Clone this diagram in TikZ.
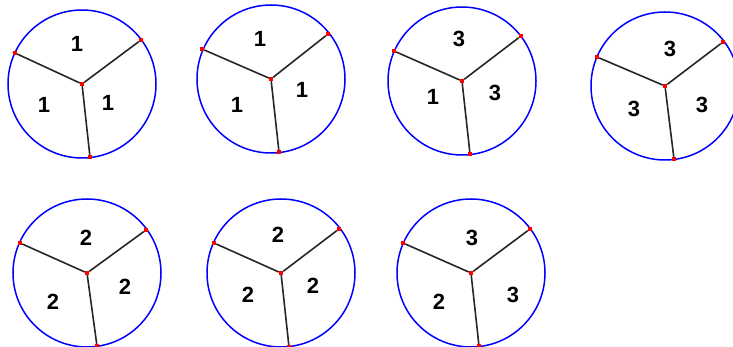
\documentclass[tikz,border=0pt]{standalone}
\usepackage{fontspec}
\setmainfont{Liberation Sans}
\usepackage{tikz}
\usetikzlibrary{positioning}

\begin{document}
\begin{tikzpicture}[
    x=1pt, y=-1pt,
    wheel/.style={circle, draw=blue, line width=1.5pt, minimum size=148pt, inner sep=0pt},
    dot/.style={rectangle, fill=red, minimum size=4pt, inner sep=0pt},
    spoke/.style={draw=black!85, line width=1.6pt},
    num/.style={font=\fontsize{22}{26}\selectfont\bfseries, inner sep=0pt}
]
\clip (0,0) rectangle (733,347);
\useasboundingbox (0,0) rectangle (733,347);

% top row
\node[wheel] (w1) at (82,84) {};
\node[dot] (c1) at (82,84) {};
\node[dot] (c1a) at (15,53) {};
\node[dot] (c1b) at (141,40) {};
\node[dot] (c1c) at (90,157) {};
\draw[spoke] (c1) -- (c1a);
\draw[spoke] (c1) -- (c1b);
\draw[spoke] (c1) -- (c1c);
\node[num] (n1t) at (77,44) {1};
\node[num] (n1l) at (44,105) {1};
\node[num] (n1r) at (108,103) {1};

\node[wheel] (w2) at (271,79) {};
\node[dot] (c2) at (271,79) {};
\node[dot] (c2a) at (202,49) {};
\node[dot] (c2b) at (328,34) {};
\node[dot] (c2c) at (279,152) {};
\draw[spoke] (c2) -- (c2a);
\draw[spoke] (c2) -- (c2b);
\draw[spoke] (c2) -- (c2c);
\node[num] (n2t) at (260,39) {1};
\node[num] (n2l) at (237,105) {1};
\node[num] (n2r) at (302,90) {1};

\node[wheel] (w3) at (462,81) {};
\node[dot] (c3) at (462,81) {};
\node[dot] (c3a) at (394,51) {};
\node[dot] (c3b) at (521,36) {};
\node[dot] (c3c) at (470,154) {};
\draw[spoke] (c3) -- (c3a);
\draw[spoke] (c3) -- (c3b);
\draw[spoke] (c3) -- (c3c);
\node[num] (n3t) at (459,39) {3};
\node[num] (n3l) at (433,97) {1};
\node[num] (n3r) at (495,93) {3};

\node[wheel] (w4) at (665,86) {};
\node[dot] (c4) at (665,86) {};
\node[dot] (c4a) at (597,57) {};
\node[dot] (c4b) at (723,42) {};
\node[dot] (c4c) at (674,159) {};
\draw[spoke] (c4) -- (c4a);
\draw[spoke] (c4) -- (c4b);
\draw[spoke] (c4) -- (c4c);
\node[num] (n4t) at (670,49) {3};
\node[num] (n4l) at (634,109) {3};
\node[num] (n4r) at (702,105) {3};

% bottom row
\node[wheel] (w5) at (87,273) {};
\node[dot] (c5) at (87,273) {};
\node[dot] (c5a) at (20,243) {};
\node[dot] (c5b) at (146,230) {};
\node[dot] (c5c) at (97,346) {};
\draw[spoke] (c5) -- (c5a);
\draw[spoke] (c5) -- (c5b);
\draw[spoke] (c5) -- (c5c);
\node[num] (n5t) at (86,238) {2};
\node[num] (n5l) at (53,302) {2};
\node[num] (n5r) at (125,287) {2};

\node[wheel] (w6) at (281,273) {};
\node[dot] (c6) at (281,273) {};
\node[dot] (c6a) at (214,243) {};
\node[dot] (c6b) at (339,229) {};
\node[dot] (c6c) at (289,347) {};
\draw[spoke] (c6) -- (c6a);
\draw[spoke] (c6) -- (c6b);
\draw[spoke] (c6) -- (c6c);
\node[num] (n6t) at (278,235) {2};
\node[num] (n6l) at (248,295) {2};
\node[num] (n6r) at (313,286) {2};

\node[wheel] (w7) at (471,273) {};
\node[dot] (c7) at (471,273) {};
\node[dot] (c7a) at (403,243) {};
\node[dot] (c7b) at (530,229) {};
\node[dot] (c7c) at (479,346) {};
\draw[spoke] (c7) -- (c7a);
\draw[spoke] (c7) -- (c7b);
\draw[spoke] (c7) -- (c7c);
\node[num] (n7t) at (472,238) {3};
\node[num] (n7l) at (439,302) {2};
\node[num] (n7r) at (513,295) {3};

\end{tikzpicture}
\end{document}
